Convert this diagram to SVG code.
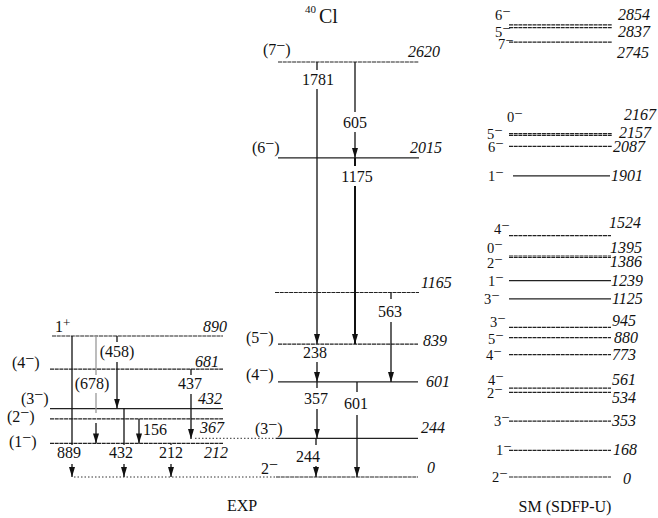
<svg xmlns="http://www.w3.org/2000/svg" width="658" height="518" viewBox="0 0 658 518">
<style>
text{font-family:"Liberation Serif","Times New Roman",serif;font-size:16px;fill:#111}
.e{font-style:italic}
.m{text-anchor:middle}
.sp{font-size:14.5px}
.lv{stroke:#222;stroke-width:1.2;fill:none}
.d{stroke-dasharray:4 0.7}
.g{stroke:#111;stroke-width:1.3;fill:none}
.ga{stroke:#111;stroke-width:1.3;fill:none;marker-end:url(#ah)}
.gb{stroke:#111;stroke-width:2;fill:none;marker-end:url(#ah)}
.gray{stroke:#999;stroke-width:1.3;fill:none}
.dot{stroke:#333;stroke-width:1;stroke-dasharray:1.5 2;fill:none}
</style>
<defs>
<marker id="ah" markerUnits="userSpaceOnUse" markerWidth="10" markerHeight="6" viewBox="0 0 10 6" refX="10" refY="3" orient="auto">
<path d="M0,0 L10,3 L0,6 z" fill="#111"/>
</marker>
</defs>
<rect width="658" height="518" fill="#fff"/>

<text x="305" y="13" style="font-size:11px">40</text>
<text x="319" y="23" style="font-size:20px">Cl</text>

<!-- EXP middle levels -->
<g id="e2620"><line class="lv d" x1="278" y1="62" x2="419" y2="62"/><text x="263" y="55">(7<tspan dy="-4">−</tspan><tspan dy="4">)</tspan></text><text class="e" x="408" y="57">2620</text></g>
<g id="e2015"><line class="lv" x1="278" y1="157.8" x2="419" y2="157.8"/><text x="252" y="153">(6<tspan dy="-4">−</tspan><tspan dy="4">)</tspan></text><text class="e" x="410" y="153">2015</text></g>
<g id="e1165"><line class="lv d" x1="275" y1="292.5" x2="419" y2="292.5"/><text class="e" x="421" y="288">1165</text></g>
<g id="e839"><line class="lv d" x1="278" y1="344.1" x2="418" y2="344.1"/><text x="246" y="343">(5<tspan dy="-4">−</tspan><tspan dy="4">)</tspan></text><text class="e" x="423" y="346">839</text></g>
<g id="e601"><line class="lv" x1="278" y1="381.8" x2="418" y2="381.8"/><text x="246" y="380">(4<tspan dy="-4">−</tspan><tspan dy="4">)</tspan></text><text class="e" x="426" y="387">601</text></g>
<g id="e244"><line class="lv" x1="276" y1="438.3" x2="418" y2="438.3"/><text x="255" y="434">(3<tspan dy="-4">−</tspan><tspan dy="4">)</tspan></text><text class="e" x="421" y="433">244</text></g>
<g id="e0"><line class="lv d" x1="276" y1="477" x2="418" y2="477"/><text x="261" y="474">2<tspan dy="-4">−</tspan></text><text class="e" x="427" y="473">0</text></g>

<!-- EXP left levels -->
<g id="e890"><line class="lv d" x1="52" y1="336" x2="223" y2="336"/><text x="55" y="332">1<tspan dy="-5" style="font-size:13px">+</tspan></text><text class="e" x="203" y="332">890</text></g>
<g id="e681"><line class="lv d" x1="50" y1="369.1" x2="223" y2="369.1"/><text x="12" y="368">(4<tspan dy="-4">−</tspan><tspan dy="4">)</tspan></text><text class="e" x="195" y="367">681</text></g>
<g id="e432"><line class="lv" x1="50" y1="408.6" x2="223" y2="408.6"/><text x="21" y="404">(3<tspan dy="-4">−</tspan><tspan dy="4">)</tspan></text><text class="e" x="198" y="404">432</text></g>
<g id="e367"><line class="lv d" x1="50" y1="418.9" x2="223" y2="418.9"/><text x="7" y="422">(2<tspan dy="-4">−</tspan><tspan dy="4">)</tspan></text><text class="e" x="200" y="433">367</text></g>
<g id="e212"><line class="lv d" x1="50" y1="443.4" x2="223" y2="443.4"/><text x="9" y="447">(1<tspan dy="-4">−</tspan><tspan dy="4">)</tspan></text><text class="e" x="204" y="458">212</text></g>

<!-- SM levels -->
<g id="s2854"><line class="lv d" x1="509" y1="24.9" x2="612" y2="24.9"/><text class="sp" x="495" y="20">6<tspan dy="-4">−</tspan></text><text class="e" x="618" y="20">2854</text></g>
<g id="s2837"><line class="lv d" x1="509" y1="27.6" x2="612" y2="27.6"/><text class="sp" x="495" y="37">5<tspan dy="-4">−</tspan></text><text class="e" x="618" y="37">2837</text></g>
<g id="s2745"><line class="lv d" x1="509" y1="42.2" x2="612" y2="42.2"/><text class="sp" x="498" y="49">7<tspan dy="-4">−</tspan></text><text class="e" x="617" y="58">2745</text></g>
<g id="s2167"><line class="lv d" x1="509" y1="133.7" x2="612" y2="133.7"/><text class="sp" x="507" y="122">0<tspan dy="-4">−</tspan></text><text class="e" x="624" y="120">2167</text></g>
<g id="s2157"><line class="lv d" x1="509" y1="135.3" x2="612" y2="135.3"/><text class="sp" x="487" y="139">5<tspan dy="-4">−</tspan></text><text class="e" x="619" y="138">2157</text></g>
<g id="s2087"><line class="lv d" x1="509" y1="146.4" x2="612" y2="146.4"/><text class="sp" x="488" y="152">6<tspan dy="-4">−</tspan></text><text class="e" x="613" y="152">2087</text></g>
<g id="s1901"><line class="lv" x1="513" y1="175.9" x2="610" y2="175.9"/><text class="sp" x="488" y="181">1<tspan dy="-4">−</tspan></text><text class="e" x="611" y="181">1901</text></g>
<g id="s1524"><line class="lv d" x1="509" y1="235.6" x2="611" y2="235.6"/><text class="sp" x="494" y="234">4<tspan dy="-4">−</tspan></text><text class="e" x="609" y="228">1524</text></g>
<g id="s1395"><line class="lv d" x1="509" y1="256" x2="611" y2="256"/><text class="sp" x="487" y="253">0<tspan dy="-4">−</tspan></text><text class="e" x="610" y="253">1395</text></g>
<g id="s1386"><line class="lv d" x1="509" y1="257.5" x2="611" y2="257.5"/><text class="sp" x="487" y="268">2<tspan dy="-4">−</tspan></text><text class="e" x="610" y="267">1386</text></g>
<g id="s1239"><line class="lv" x1="509" y1="280.7" x2="611" y2="280.7"/><text class="sp" x="488" y="286">1<tspan dy="-4">−</tspan></text><text class="e" x="611" y="286">1239</text></g>
<g id="s1125"><line class="lv" x1="509" y1="298.8" x2="611" y2="298.8"/><text class="sp" x="484" y="304">3<tspan dy="-4">−</tspan></text><text class="e" x="612" y="304">1125</text></g>
<g id="s945"><line class="lv d" x1="509" y1="327.3" x2="611" y2="327.3"/><text class="sp" x="490" y="327">3<tspan dy="-4">−</tspan></text><text class="e" x="612" y="326">945</text></g>
<g id="s880"><line class="lv d" x1="509" y1="337.6" x2="611" y2="337.6"/><text class="sp" x="488" y="344">5<tspan dy="-4">−</tspan></text><text class="e" x="614" y="343">880</text></g>
<g id="s773"><line class="lv d" x1="509" y1="354.6" x2="611" y2="354.6"/><text class="sp" x="486" y="360">4<tspan dy="-4">−</tspan></text><text class="e" x="612" y="360">773</text></g>
<g id="s561"><line class="lv d" x1="509" y1="388.1" x2="611" y2="388.1"/><text class="sp" x="488" y="385">4<tspan dy="-4">−</tspan></text><text class="e" x="612" y="385">561</text></g>
<g id="s534"><line class="lv d" x1="509" y1="392.4" x2="611" y2="392.4"/><text class="sp" x="487" y="398">2<tspan dy="-4">−</tspan></text><text class="e" x="612" y="403">534</text></g>
<g id="s353"><line class="lv d" x1="509" y1="421.1" x2="611" y2="421.1"/><text class="sp" x="494" y="426">3<tspan dy="-4">−</tspan></text><text class="e" x="612" y="426">353</text></g>
<g id="s168"><line class="lv d" x1="509" y1="450.4" x2="611" y2="450.4"/><text class="sp" x="496" y="455">1<tspan dy="-4">−</tspan></text><text class="e" x="613" y="455">168</text></g>
<g id="s0"><line class="lv d" x1="509" y1="477" x2="611" y2="477"/><text class="sp" x="492" y="482">2<tspan dy="-4">−</tspan></text><text class="e" x="623" y="484">0</text></g>

<!-- connectors -->
<g id="connectors">
<line class="dot" x1="195" y1="438.3" x2="276" y2="438.3"/>
<line class="dot" x1="74" y1="477" x2="276" y2="477"/>
<line class="g" x1="317" y1="62" x2="317" y2="70"/>
<line class="ga" x1="317" y1="89" x2="317" y2="344"/>
<line class="g" x1="355" y1="62" x2="355" y2="112"/>
<line class="ga" x1="355" y1="132" x2="355" y2="158"/>
<line class="g" x1="355" y1="158" x2="355" y2="166" style="stroke-width:2"/>
<line class="gb" x1="355" y1="186" x2="355" y2="344"/>
<line class="g" x1="391" y1="292.5" x2="391" y2="299"/>
<line class="ga" x1="391" y1="322" x2="391" y2="382"/>
<line class="ga" x1="317" y1="362" x2="317" y2="382"/>
<line class="g" x1="317" y1="382" x2="317" y2="388"/>
<line class="ga" x1="317" y1="409" x2="317" y2="438.5"/>
<line class="g" x1="357" y1="382" x2="357" y2="392"/>
<line class="ga" x1="357" y1="415" x2="357" y2="477"/>
<line class="g" x1="316" y1="438.3" x2="316" y2="445"/>
<line class="ga" x1="316" y1="466" x2="316" y2="477"/>
<line class="g" x1="72" y1="336" x2="72" y2="445"/>
<line class="ga" x1="72" y1="464" x2="72" y2="477"/>
<line class="gray" x1="96" y1="336" x2="96" y2="375"/>
<line class="gray" x1="96" y1="393" x2="96" y2="413"/>
<line class="ga" x1="96" y1="423" x2="96" y2="443.4"/>
<line class="g" x1="117" y1="336" x2="117" y2="342"/>
<line class="ga" x1="117" y1="362" x2="117" y2="408.6"/>
<line class="g" x1="191" y1="369" x2="191" y2="375"/>
<line class="ga" x1="191" y1="394" x2="191" y2="439"/>
<line class="g" x1="124" y1="408.6" x2="124" y2="445"/>
<line class="ga" x1="124" y1="464" x2="124" y2="477"/>
<line class="ga" x1="139" y1="419" x2="139" y2="443.4"/>
<line class="g" x1="171" y1="443.4" x2="171" y2="445"/>
<line class="ga" x1="171" y1="464" x2="171" y2="477"/>
</g>

<!-- transition labels -->
<text class="m" x="318" y="85">1781</text>
<text class="m" x="355" y="128">605</text>
<text class="m" x="357" y="182">1175</text>
<text class="m" x="390" y="317">563</text>
<text class="m" x="315" y="358">238</text>
<text class="m" x="316" y="404">357</text>
<text class="m" x="356" y="409">601</text>
<text class="m" x="308" y="462">244</text>
<text class="m" x="69" y="458">889</text>
<text class="m" x="121" y="458">432</text>
<text class="m" x="171" y="458">212</text>
<text x="143" y="435">156</text>
<text class="m" x="190" y="389">437</text>
<text class="m" x="92" y="389">(678)</text>
<text class="m" x="117" y="357">(458)</text>

<text class="m" x="242" y="511">EXP</text>
<text class="m" x="565" y="512">SM (SDFP-U)</text>
</svg>
